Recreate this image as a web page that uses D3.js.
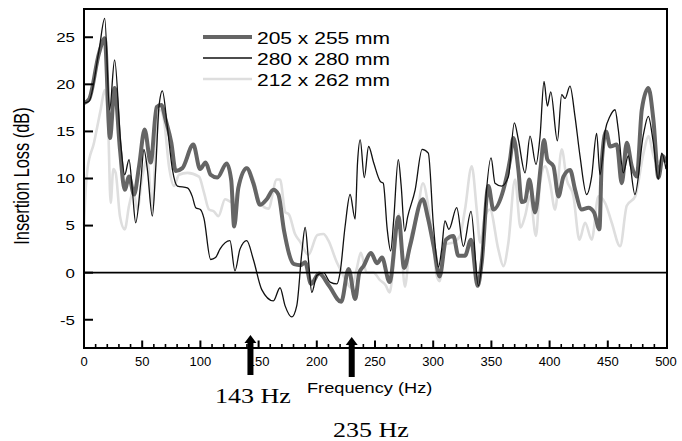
<!DOCTYPE html>
<html><head><meta charset="utf-8">
<script src="https://cdn.jsdelivr.net/npm/d3@7/dist/d3.min.js"></script>
<style>body{margin:0;background:#fff}svg{display:block}</style>
</head><body><svg id="c" width="682" height="441"></svg>
<script>
const seriesNames = ["205 x 255 mm", "280 x 280 mm", "212 x 262 mm"];
const xTicks = [0,50,100,150,200,250,300,350,400,450,500];
const yTicks = [-5,0,5,10,15,20,25];
const markFreqs = [143, 230];
const markLabels = ["143 Hz", "235 Hz"];

// 205 x 255 mm : [frequency Hz, insertion loss dB]
const s205 = [[0,18],[4.3,18.4],[12.9,23.3],[17.8,24.9],[22.3,14.3],[26.3,19.6],[30.9,13.1],[35,8.8],[38.7,10.2],[43,8.3],[47.3,11.3],[52.1,15.2],[57.3,11.7],[62.4,17.6],[66.4,17.8],[70.2,16.2],[75,13.8],[78.8,10.8],[84.5,11.1],[93.9,13.6],[99.7,11],[104.5,11.7],[108.8,10.4],[114.5,10.1],[122.6,11.6],[126.5,9.8],[129,4.9],[132.6,9.0],[139.8,11.1],[145.5,9.5],[151.3,7.2],[157,7.8],[162.7,8.8],[167,8.3],[171.8,4.5],[180.5,0.9],[186,0.8],[190,1.1],[195,-1.2],[202,-0.1],[210.5,-1.4],[221,-3.1],[227.3,0.4],[233,-2.8],[236.5,0],[240.2,0.7],[246.5,2.1],[251.7,1.0],[256,1.6],[262.5,-1.0],[270.2,5.9],[275,0.5],[280.2,2.9],[291,7.8],[295.5,5.8],[300.4,2.8],[305.5,-0.4],[311,3.5],[317.3,3.9],[321.6,1.8],[327.3,1.8],[332.5,3.5],[338.2,-1.4],[341.7,1.1],[347.4,9.2],[351.7,6.7],[360.3,8.8],[366,12],[368.9,14.3],[373.2,10.9],[376,7.5],[378.9,7.6],[382.6,9.9],[387.5,6.4],[392.4,11.3],[395.2,14.1],[398.1,12],[403.3,11.3],[407.6,8.1],[411.9,10.2],[417.6,10.9],[421.9,8.8],[427.6,6.7],[433.4,6.9],[438.2,6.4],[442.8,4.6],[444.8,11.7],[448.5,15],[452,13.4],[457.7,13.6],[462,9.5],[466.3,13.8],[470.6,11.3],[474.9,10.2],[479.2,17.3],[484.9,19.6],[489.2,16.2],[493.5,10.1],[497.3,12.4],[500,11.7]];

// 280 x 280 mm
const s280 = [[0,18],[4.3,18.2],[12.9,23.6],[17.8,27.0],[22,17.3],[26.3,22.6],[31.5,13.8],[35,10.4],[38.7,12],[41.5,8.8],[44.4,5.3],[48.7,9.5],[51.5,13.1],[54.4,11],[58.7,6.0],[61.6,11],[64.4,17.6],[67.3,19.3],[71.6,15.5],[75.9,11],[80.2,9.2],[88.8,9.0],[93,8.1],[96,6.9],[100,6.7],[103,5.8],[108.8,1.4],[113,1.6],[116.8,2.5],[125.4,3.4],[129.7,0.2],[134,2.5],[139.8,3.4],[145.5,1.4],[152.7,-1.8],[162.7,-3.0],[168.4,-1.6],[172.7,-3.5],[178.5,-4.7],[182.8,-3.5],[187.1,2.1],[190,4.8],[192.8,1.4],[195.7,-2.1],[200,-0.3],[205.7,0.0],[211.4,-1.0],[217.2,-1.2],[220,0],[224.3,4.9],[228.6,8.3],[232.9,5.7],[235,11.7],[237.3,14.1],[240.8,10.1],[244.5,13.4],[248.8,11.7],[254.5,9.7],[257.1,9.5],[260.5,4.6],[263.5,2.3],[266,5.5],[270,12],[272.5,9.2],[275.5,4.4],[278,5.9],[284.5,8.8],[290.5,13.1],[295.8,12.7],[300.2,5],[304.5,0.6],[307.3,2.5],[310.1,5.5],[313.5,4.6],[320.2,6.9],[325.9,2.8],[332.5,6.5],[338.8,-1.4],[341.7,1.1],[344.5,6.7],[349.7,12.2],[353.1,9.5],[358.8,9.2],[364.6,10.2],[369.7,15.9],[373.2,14.1],[378.9,10.6],[383.2,14.5],[388.3,11.5],[391.8,14.5],[395.2,20.3],[398.1,17.7],[401,19.2],[406.7,14],[410.4,18.9],[413.3,18.5],[417.5,19.8],[421.8,16.6],[426.1,12.4],[431.8,8.3],[436.1,10.2],[440.4,14.8],[443.3,10.4],[447.6,15],[451.9,16.6],[456.2,17.3],[459,15.2],[463.3,10.6],[467.6,12.4],[473.3,8.3],[480.5,14.6],[484.8,16.6],[489.1,13.8],[493.4,9.9],[496.3,12.7],[500,11]];

// 212 x 262 mm
const s212 = [[0,5],[1.5,9],[3,11],[8.6,13.8],[14.3,17.3],[17.8,19.4],[20.6,16.2],[22.9,7.4],[25.2,11],[27.2,10.6],[30.9,6],[35,4.6],[38.7,7.1],[42.4,8.7],[45.8,6.7],[50.1,10.2],[54.4,12],[58.7,6.7],[61.6,13.1],[65.3,17.3],[68.7,16.2],[73,11.3],[77.3,9.2],[81.6,10.4],[88.8,10.6],[98.8,10.2],[103.1,8.5],[107.4,6.7],[111.7,6.5],[115.5,6.0],[121.2,7.8],[128.4,7.4],[134.1,9.9],[139.8,11.2],[145.5,9.9],[151.3,7.4],[158.4,6.8],[165.6,9.9],[168.4,9.9],[173,6.4],[176,6.2],[181.3,4.1],[185.6,3.3],[192.8,1.9],[200.5,4.0],[205.7,4.1],[210,3.4],[217.2,1.1],[220,0.4],[225.7,-1.0],[229.5,-1.6],[234.3,0.4],[237.8,2.1],[242.9,0],[248.7,0],[254.3,-0.8],[259,-1.3],[262.5,-2.1],[265.7,0.5],[270.5,6.2],[275.7,-1.5],[280,3.3],[285.8,5.8],[291.2,9.5],[295.8,7.0],[300.1,2.8],[303,-0.3],[305.5,-0.9],[310.1,3.0],[317.3,3.2],[323,3.9],[327.3,6.7],[333.1,11.3],[337.4,6.7],[340.3,3.2],[344.5,6.0],[348.8,6.7],[355.9,2.5],[360.3,0.7],[364.6,3.2],[370.3,9.9],[375,4.8],[378.9,6.0],[383.2,8.1],[388.3,3.9],[391.8,9.5],[396.1,11.3],[400.4,9.5],[404.7,6.7],[410.4,13.1],[414.7,9.9],[420.5,8.1],[425.6,3.5],[430.5,5.3],[436.2,3.5],[441.9,8.1],[447.7,7.4],[453.4,5.3],[460.6,2.8],[466.3,7.1],[473.5,8.1],[480.7,12.7],[485,14.5],[489.3,12.4],[492.1,11.7],[496.4,12],[500,12.4]];

const svg = d3.select("#c");
const L = 84, R = 666, T = 9, B = 348;
const x = d3.scaleLinear().domain([0, 500]).range([L, R]);
const y = d3.scaleLinear().domain([-8, 28]).range([B, T]);
const sans = "'Liberation Sans', Arial, sans-serif";

// series
const line = d3.line().x(d => x(d[0])).y(d => y(d[1])).curve(d3.curveMonotoneX);
const styles = [
  {data: s212, color: "#dedede", w: 2.6},
  {data: s205, color: "#656565", w: 4},
  {data: s280, color: "#111", w: 1.3}
];
styles.forEach(s => svg.append("path").attr("d", line(s.data)).attr("fill", "none")
  .attr("stroke", s.color).attr("stroke-width", s.w).attr("stroke-linejoin", "round"));

// zero line
svg.append("line").attr("x1", L).attr("x2", R + 1).attr("y1", y(0)).attr("y2", y(0))
  .attr("stroke", "#000").attr("stroke-width", 1.6);

// frame
svg.append("rect").attr("x", L).attr("y", T).attr("width", R + 1 - L).attr("height", B - T)
  .attr("fill", "none").attr("stroke", "#000").attr("stroke-width", 2);

// x axis (ticks inward)
const xMinor = d3.range(0, 501, 10);
const xa = svg.append("g").attr("transform", `translate(0,${B})`);
xa.selectAll("line.mi").data(xMinor.filter(v => v % 50 !== 0)).join("line")
  .attr("x1", d => x(d)).attr("x2", d => x(d)).attr("y1", 0).attr("y2", -4)
  .attr("stroke", "#000").attr("stroke-width", 1.6);
xa.selectAll("line.ma").data(xTicks.slice(1, -1)).join("line")
  .attr("x1", d => x(d)).attr("x2", d => x(d)).attr("y1", 0).attr("y2", -7.5)
  .attr("stroke", "#000").attr("stroke-width", 2);
xa.selectAll("text").data(xTicks).join("text")
  .attr("x", d => x(d)).attr("y", 18).attr("text-anchor", "middle")
  .attr("font-family", sans).attr("font-size", 13).text(d => d);

// y axis
const ya = svg.append("g");
ya.selectAll("line").data(yTicks).join("line")
  .attr("x1", L).attr("x2", L + 9).attr("y1", d => y(d)).attr("y2", d => y(d))
  .attr("stroke", "#000").attr("stroke-width", 2);
ya.selectAll("text").data(yTicks).join("text")
  .attr("transform", d => `translate(75,${y(d)}) scale(1.25,1)`)
  .attr("dy", "0.36em").attr("text-anchor", "end")
  .attr("font-family", sans).attr("font-size", 13.5).text(d => d);

// axis titles
svg.append("text").attr("transform", "translate(21,176) scale(1.3,1) rotate(-90)")
  .attr("text-anchor", "middle").attr("dy", "0.36em")
  .attr("font-family", sans).attr("font-size", 16.4).text("Insertion Loss (dB)");
svg.append("text").attr("transform", "translate(307,393) scale(1.3,1)")
  .attr("font-family", sans).attr("font-size", 14).text("Frequency (Hz)");

// legend
const legY = [37, 58, 79];
const legStyle = [styles[1], styles[2], styles[0]];
seriesNames.forEach((n, i) => {
  svg.append("line").attr("x1", 203).attr("x2", 252).attr("y1", legY[i]).attr("y2", legY[i])
    .attr("stroke", legStyle[i].color).attr("stroke-width", legStyle[i].w);
  svg.append("text").attr("transform", `translate(257,${legY[i] + 7}) scale(1.33,1)`)
    .attr("font-family", sans).attr("font-size", 15.8).text(n);
});

// arrows and labels
const arrowTop = [335, 337], arrowBot = [375, 377];
markFreqs.forEach((f, i) => {
  const cx = x(f), t = arrowTop[i], b = arrowBot[i];
  svg.append("path").attr("fill", "#000")
    .attr("d", `M${cx},${t} L${cx + 6},${t + 8} L${cx + 3},${t + 8} L${cx + 3},${b} L${cx - 3},${b} L${cx - 3},${t + 8} L${cx - 6},${t + 8} Z`);
});
const labPos = [[215, 403], [333, 437]];
markLabels.forEach((s, i) => {
  svg.append("text").attr("transform", `translate(${labPos[i][0]},${labPos[i][1]}) scale(1.3,1)`)
    .attr("font-family", "'Liberation Serif', 'Times New Roman', serif").attr("font-size", 20).text(s);
});
</script></body></html>
